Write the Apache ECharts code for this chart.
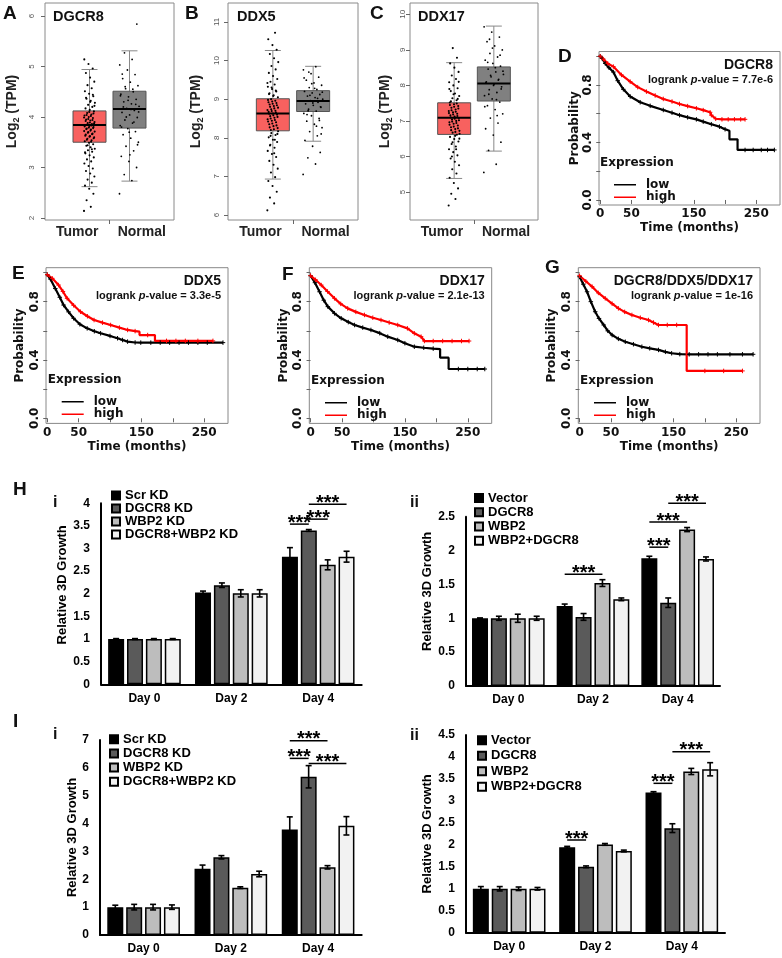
<!DOCTYPE html>
<html><head><meta charset="utf-8">
<script src="https://cdn.jsdelivr.net/npm/echarts@6/dist/echarts.min.js"></script>
<style>html,body{margin:0;padding:0;background:#fff}#c{width:782px;height:958px}</style>
</head><body><div id="c"></div>
<script>
// ================= DATA =================
// ---- A–C: expression box plots (Log2 TPM) ----
const boxCategories = ['Tumor', 'Normal'];
// [lower whisker, Q1, median, Q3, upper whisker]
const dgcr8Box = [[2.62, 3.50, 3.84, 4.12, 4.94], [2.73, 3.78, 4.16, 4.51, 5.31]];
const ddx5Box  = [[6.93, 8.18, 8.63, 9.01, 10.26], [7.91, 8.68, 8.95, 9.22, 9.85]];
const ddx17Box = [[5.38, 6.62, 7.09, 7.51, 8.64], [6.15, 7.56, 8.05, 8.52, 9.67]];
const dgcr8TumorPts = [2.14, 2.22, 2.35, 2.48, 2.58, 2.64, 2.7, 2.76, 2.82, 2.88, 2.93, 2.98, 3.03, 3.08, 3.12, 3.16, 3.2, 3.24, 3.28, 3.31, 3.34, 3.37, 3.4, 3.43, 3.46, 3.49, 3.52, 3.54, 3.57, 3.6, 3.62, 3.65, 3.67, 3.7, 3.72, 3.75, 3.77, 3.8, 3.82, 3.84, 3.86, 3.88, 3.9, 3.93, 3.95, 3.98, 4.0, 4.03, 4.05, 4.08, 4.11, 4.14, 4.17, 4.2, 4.24, 4.28, 4.32, 4.36, 4.41, 4.46, 4.51, 4.57, 4.63, 4.7, 4.78, 4.87, 4.96, 5.05, 5.14,
  3.51, 3.55, 3.58, 3.61, 3.63, 3.66, 3.69, 3.71, 3.73, 3.76, 3.78, 3.79, 3.81, 3.83, 3.85, 3.87, 3.89, 3.92, 3.94, 3.96, 3.99, 4.02, 4.04, 4.07, 4.1, 3.3, 3.36, 3.44, 4.22, 4.3, 4.38, 4.44];
const dgcr8NormalPts = [2.48, 2.74, 2.86, 3.0, 3.12, 3.22, 3.33, 3.42, 3.5, 3.58, 3.65, 3.71, 3.77, 3.83, 3.88, 3.94, 3.99, 4.04, 4.09, 4.13, 4.17, 4.21, 4.26, 4.3, 4.35, 4.4, 4.45, 4.5, 4.56, 4.62, 4.69, 4.76, 4.84, 4.93, 5.03, 5.14, 5.27, 5.84,
  3.7, 3.8, 3.9, 4.0, 4.1, 4.15, 4.2, 4.25, 4.33, 4.42, 4.55, 4.6, 3.45, 3.25, 4.85];
const ddx5TumorPts = [6.12, 6.3, 6.45, 6.6, 6.75, 6.88, 6.98, 7.1, 7.2, 7.3, 7.4, 7.5, 7.58, 7.66, 7.74, 7.82, 7.89, 7.95, 8.01, 8.07, 8.12, 8.17, 8.22, 8.27, 8.32, 8.37, 8.42, 8.46, 8.5, 8.54, 8.58, 8.62, 8.65, 8.69, 8.72, 8.76, 8.8, 8.84, 8.88, 8.92, 8.96, 9.0, 9.05, 9.1, 9.15, 9.2, 9.26, 9.32, 9.38, 9.45, 9.52, 9.6, 9.68, 9.77, 9.86, 9.96, 10.06, 10.17, 10.28, 10.4, 10.55, 10.72,
  8.2, 8.25, 8.3, 8.35, 8.4, 8.44, 8.48, 8.52, 8.56, 8.6, 8.63, 8.67, 8.7, 8.74, 8.78, 8.82, 8.86, 8.9, 8.94, 8.98, 7.95, 8.05, 8.1, 9.08, 9.13, 9.22, 9.3, 9.42, 7.6, 7.8];
const ddx5NormalPts = [7.05, 7.32, 7.48, 7.62, 7.78, 7.93, 8.05, 8.16, 8.26, 8.35, 8.43, 8.5, 8.57, 8.63, 8.69, 8.74, 8.79, 8.84, 8.88, 8.92, 8.96, 9.0, 9.04, 9.08, 9.12, 9.16, 9.2, 9.25, 9.3, 9.36, 9.42, 9.49, 9.57, 9.66, 9.76, 9.84,
  8.7, 8.8, 8.9, 8.95, 9.02, 9.1, 9.18, 9.28, 8.6, 8.45, 9.4, 9.55, 8.3, 9.7, 8.1];
const ddx17TumorPts = [4.62, 4.8, 4.95, 5.1, 5.25, 5.4, 5.52, 5.64, 5.75, 5.85, 5.94, 6.03, 6.12, 6.2, 6.28, 6.35, 6.42, 6.49, 6.55, 6.61, 6.67, 6.72, 6.77, 6.82, 6.87, 6.92, 6.96, 7.0, 7.04, 7.08, 7.12, 7.16, 7.2, 7.24, 7.28, 7.32, 7.37, 7.42, 7.47, 7.52, 7.58, 7.64, 7.7, 7.77, 7.84, 7.92, 8.0, 8.09, 8.18, 8.28, 8.38, 8.5, 8.62, 8.78, 9.05,
  6.64, 6.69, 6.74, 6.79, 6.84, 6.89, 6.94, 6.98, 7.02, 7.06, 7.1, 7.14, 7.18, 7.22, 7.26, 7.3, 7.35, 7.4, 7.45, 7.49, 6.4, 6.5, 6.58, 7.55, 7.62, 7.75, 7.9, 6.2, 6.0, 8.1];
const ddx17NormalPts = [5.55, 5.78, 6.17, 6.4, 6.6, 6.78, 6.94, 7.08, 7.2, 7.32, 7.43, 7.53, 7.62, 7.71, 7.8, 7.88, 7.96, 8.03, 8.1, 8.17, 8.24, 8.31, 8.38, 8.46, 8.54, 8.62, 8.71, 8.8, 8.9, 9.0, 9.11, 9.23, 9.36, 9.5, 9.65,
  7.6, 7.75, 7.9, 8.0, 8.08, 8.15, 8.28, 8.4, 8.5, 8.65, 8.85, 9.05, 7.4, 7.15, 9.3];
const boxTicksA = [2, 3, 4, 5, 6];
const boxTicksB = [6, 7, 8, 9, 10, 11];
const boxTicksC = [5, 6, 7, 8, 9, 10];

// ---- D–G: Kaplan–Meier curves [months, probability] ----
const kmTicks = [0, 50, 100, 150, 200, 250];
const kmTickLabels = [0, 50, 150, 250];
const probTicks = [0, 0.2, 0.4, 0.6, 0.8, 1.0];
const probTickLabels = [0, 0.4, 0.8];
const kmGroups = ['low', 'high'];
const kmGenes = ['DGCR8', 'DDX5', 'DDX17', 'DGCR8/DDX5/DDX17'];
const kmPvalues = ['7.7e-6', '3.3e-5', '2.1e-13', '1e-16'];
const dLow = [[0,1],[3,0.985],[8,0.95],[14,0.92],[21,0.89],[28,0.83],[37,0.77],[48,0.72],[64,0.68],[80,0.655],[101,0.626],[115,0.607],[127,0.59],[140,0.575],[154,0.561],[165,0.545],[178,0.527],[191,0.51],[200,0.492],[207,0.482],[207,0.422],[220,0.422],[220,0.348],[232,0.348],[245,0.348],[258,0.348],[268,0.348],[279,0.348]];
const dHigh = [[0,1],[5,0.98],[12,0.95],[21,0.928],[34,0.87],[48,0.823],[60,0.785],[74,0.754],[88,0.727],[101,0.703],[115,0.685],[127,0.668],[140,0.653],[154,0.638],[165,0.625],[176,0.61],[178,0.59],[185,0.565],[195,0.561],[205,0.561],[215,0.561],[225,0.561],[232,0.561]];
const eLow = [[0,0.985],[5,0.955],[12.8,0.89],[20,0.83],[26,0.777],[34,0.73],[42,0.686],[52,0.645],[63.6,0.617],[75,0.597],[85,0.583],[100,0.565],[112,0.549],[120,0.537],[128,0.526],[140,0.52],[149,0.519],[165,0.519],[180,0.519],[195,0.519],[210,0.519],[225,0.519],[240,0.519],[255,0.519],[280,0.519]];
const eHigh = [[0,0.985],[8,0.96],[18,0.914],[25,0.87],[31.6,0.823],[42,0.775],[53,0.731],[64,0.7],[74.6,0.674],[88,0.656],[101,0.64],[115,0.622],[128,0.606],[140,0.598],[147,0.594],[147,0.571],[160,0.571],[171.6,0.571],[171.6,0.531],[190,0.531],[205,0.531],[220,0.531],[240,0.531],[264,0.531]];
const fLow = [[0,0.978],[7,0.93],[14.3,0.868],[21,0.81],[27.5,0.766],[38,0.72],[48.7,0.686],[60,0.66],[70,0.64],[83,0.622],[96,0.606],[110,0.584],[122.7,0.56],[138.6,0.537],[150,0.515],[165,0.491],[180,0.484],[195,0.478],[206,0.475],[206,0.416],[219.5,0.416],[219.5,0.338],[235,0.338],[250,0.338],[265,0.338],[277,0.338]];
const fHigh = [[0,0.978],[8,0.95],[17,0.914],[27,0.87],[38,0.823],[48,0.785],[59,0.754],[72,0.73],[85.7,0.709],[99,0.69],[112,0.674],[125,0.657],[138.6,0.64],[154,0.617],[165,0.583],[175.7,0.56],[181,0.53],[195,0.53],[210,0.53],[225,0.53],[240,0.53],[252,0.53]];
const gLow = [[0,0.971],[6,0.92],[12,0.868],[18,0.8],[25,0.731],[31,0.685],[38.6,0.64],[45,0.6],[52,0.571],[62,0.545],[73,0.525],[86,0.508],[99.5,0.491],[112,0.48],[126,0.469],[137,0.456],[147,0.446],[160,0.44],[175,0.439],[190,0.439],[205,0.439],[220,0.439],[240,0.439],[260,0.439],[277,0.439]];
const gHigh = [[0,0.978],[10,0.94],[20,0.903],[30,0.86],[41,0.823],[52,0.786],[62,0.754],[72,0.73],[83.6,0.709],[97,0.69],[110,0.674],[118,0.657],[126,0.64],[140,0.64],[155,0.64],[171,0.64],[171,0.325],[200,0.325],[230,0.325],[260,0.325]];

// ---- H, I: relative 3D growth bar charts ----
const days = ['Day 0', 'Day 2', 'Day 4'];
const kdNames = ['Scr KD', 'DGCR8 KD', 'WBP2 KD', 'DGCR8+WBP2 KD'];
const oeNames = ['Vector', 'DGCR8', 'WBP2', 'WBP2+DGCR8'];
// H i
const hiScr = [1.00, 2.03, 2.82],  hiScrErr = [0.01, 0.03, 0.20];
const hiDgcr8 = [1.00, 2.19, 3.40], hiDgcr8Err = [0.01, 0.05, 0.02];
const hiWbp2 = [1.00, 2.01, 2.64], hiWbp2Err = [0.01, 0.08, 0.11];
const hiBoth = [1.00, 2.01, 2.82], hiBothErr = [0.01, 0.08, 0.12];
// H ii
const hiiVector = [1.00, 1.18, 1.886], hiiVectorErr = [0.005, 0.03, 0.03];
const hiiDgcr8 = [1.00, 1.02, 1.23],  hiiDgcr8Err = [0.03, 0.05, 0.07];
const hiiWbp2 = [1.00, 1.52, 2.31],   hiiWbp2Err = [0.06, 0.05, 0.03];
const hiiBoth = [1.00, 1.28, 1.876],  hiiBothErr = [0.03, 0.02, 0.03];
// I i
const iiScr = [1.00, 2.38, 3.79],  iiScrErr = [0.07, 0.13, 0.45];
const iiDgcr8 = [1.00, 2.79, 5.68], iiDgcr8Err = [0.10, 0.06, 0.40];
const iiWbp2 = [1.00, 1.70, 2.43], iiWbp2Err = [0.10, 0.03, 0.06];
const iiBoth = [1.00, 2.19, 3.92], iiBothErr = [0.08, 0.10, 0.33];
// I ii
const iiiVector = [1.00, 1.945, 3.19], iiiVectorErr = [0.05, 0.02, 0.02];
const iiiDgcr8 = [1.00, 1.50, 2.38],   iiiDgcr8Err = [0.05, 0.02, 0.10];
const iiiWbp2 = [1.00, 2.01, 3.67],    iiiWbp2Err = [0.04, 0.02, 0.07];
const iiiBoth = [1.00, 1.86, 3.72],    iiiBothErr = [0.03, 0.02, 0.15];
// significance brackets: [day index, from bar, to bar, bracket height]
const hiStars = [[2, 0, 1, 3.54], [2, 1, 2, 3.65], [2, 1, 3, 3.98]];
const hiiStars = [[1, 0, 2, 1.65], [2, 0, 1, 2.05], [2, 0, 2, 2.42], [2, 1, 3, 2.70]];
const iiStars = [[2, 0, 2, 6.97], [2, 0, 1, 6.34], [2, 1, 3, 6.16]];
const iiiStars = [[1, 0, 1, 2.11], [2, 0, 1, 3.40], [2, 1, 3, 4.12]];

// ================= STYLE / LAYOUT =================
const ARIAL = 'Liberation Sans, Arial, sans-serif';
const DEJAVU = 'DejaVu Sans, sans-serif';
const BOX_POS = [1.38, 2.62];
const BOX_HALF = 16.5, CAP_HALF = 8;
const DOT_SPREAD = [11, 20];
const DOT_R = [1.05, 0.9];
const BAR_W = 16, BAR_GAP = 0.18;
const barColors = ['#000000', '#5a5a5a', '#bdbdbd', '#f2f2f2'];
const PLUS = 'path://M0,5H10M5,0V10';

const grids = [], xAxes = [], yAxes = [], series = [], legends = [], texts = [];

function boxRender(params, api) {
  const gi = api.value(0);
  const x = api.coord([BOX_POS[gi], 0])[0];
  const y = k => api.coord([BOX_POS[gi], api.value(k)])[1];
  const lo = y(1), q1 = y(2), md = y(3), q3 = y(4), hi = y(5);
  const fill = gi === 0 ? '#f8615f' : '#808080';
  const ln = (x1, y1, x2, y2, c, w) => ({type: 'line', shape: {x1, y1, x2, y2}, style: {stroke: c, lineWidth: w}});
  return {type: 'group', children: [
    ln(x, hi, x, lo, '#888', 1),
    ln(x - CAP_HALF, hi, x + CAP_HALF, hi, '#888', 1),
    ln(x - CAP_HALF, lo, x + CAP_HALF, lo, '#888', 1),
    {type: 'rect', shape: {x: x - BOX_HALF, y: q3, width: 2 * BOX_HALF, height: q1 - q3}, style: {fill, stroke: '#555', lineWidth: 1}}
  ]};
}
function dotRender(params, api) {
  const gi = api.value(0);
  const p = api.coord([BOX_POS[gi], api.value(1)]);
  const k = api.value(2);
  const off = (((k * 0.6180339887) % 1) - 0.5) * DOT_SPREAD[gi];
  return {type: 'circle', shape: {cx: p[0] + off, cy: p[1], r: DOT_R[gi]}, style: {fill: '#000'}};
}
function medRender(params, api) {
  const gi = api.value(0);
  const p = api.coord([BOX_POS[gi], api.value(3)]);
  return {type: 'line', shape: {x1: p[0] - BOX_HALF, y1: p[1], x2: p[0] + BOX_HALF, y2: p[1]}, style: {stroke: '#000', lineWidth: 2}};
}

function addBoxPanel(g, box, tumorPts, normalPts, ticks) {
  const gi = grids.length;
  grids.push({left: g.left, top: g.top, width: g.width, height: g.height, show: true, borderColor: '#8a8a8a', borderWidth: 1, backgroundColor: 'transparent'});
  xAxes.push({gridIndex: gi, type: 'value', min: 0, max: 4, axisLine: {show: false}, splitLine: {show: false},
    axisTick: {show: true, customValues: [2], length: 4, lineStyle: {color: '#666'}},
    axisLabel: {customValues: [1, 3], formatter: v => boxCategories[Math.round((v - 1) / 2)], margin: 5, fontSize: 14, fontWeight: 'bold', fontFamily: ARIAL, color: '#222'}});
  yAxes.push({gridIndex: gi, type: 'value', min: g.yMin, max: g.yMax, axisLine: {show: false}, splitLine: {show: false},
    axisTick: {show: true, customValues: ticks, length: 4, lineStyle: {color: '#666'}},
    axisLabel: {customValues: ticks, rotate: 90, margin: g.labelMargin, fontSize: 8, color: '#555', fontFamily: ARIAL},
    name: '{a|Log}{b|2}{a| (TPM)}', nameLocation: 'middle', nameGap: g.nameGap,
    nameTextStyle: {rich: {
      a: {fontSize: 14, fontWeight: 'bold', fontFamily: ARIAL, color: '#222', lineHeight: 17},
      b: {fontSize: 9, fontWeight: 'bold', fontFamily: ARIAL, color: '#222', lineHeight: 17, verticalAlign: 'bottom', padding: [7, 0, 0, 0]}
    }}});
  const boxData = box.map((b, i) => [i].concat(b));
  series.push({type: 'custom', xAxisIndex: gi, yAxisIndex: gi, renderItem: boxRender, data: boxData, encode: {x: 0, y: [1, 2, 3, 4, 5]}, silent: true, z: 2});
  const pts = [];
  tumorPts.forEach((v, k) => pts.push([0, v, k]));
  normalPts.forEach((v, k) => pts.push([1, v, k]));
  series.push({type: 'custom', xAxisIndex: gi, yAxisIndex: gi, renderItem: dotRender, data: pts, encode: {x: 0, y: 1}, silent: true, z: 3});
  series.push({type: 'custom', xAxisIndex: gi, yAxisIndex: gi, renderItem: medRender, data: boxData, encode: {x: 0, y: [1, 2, 3, 4, 5]}, silent: true, z: 4});
}

function kmLine(name, data, color, gi) {
  // censor "+" marks on every reading except the corners of vertical drops
  const sym = (val, params) => {
    const i = params.dataIndex;
    const prev = data[i - 1], next = data[i + 1];
    if ((prev && prev[0] === data[i][0]) || (next && next[0] === data[i][0])) return 'none';
    return PLUS;
  };
  return {type: 'line', name, xAxisIndex: gi, yAxisIndex: gi, data, showSymbol: true,
    symbol: sym, symbolSize: 4.5,
    lineStyle: {color, width: 2.2}, itemStyle: {color, borderColor: color, borderWidth: 1}, silent: true, z: 3};
}
function addKmPanel(g, low, high, k) {
  const gi = grids.length;
  const axTxt = {fontFamily: DEJAVU, fontWeight: 'bold', fontSize: 12, color: '#111'};
  grids.push({left: g.left, top: g.top, width: g.width, height: g.height, show: true, borderColor: '#888', borderWidth: 1, backgroundColor: 'transparent'});
  xAxes.push({gridIndex: gi, type: 'value', min: -2, max: 288, axisLine: {show: false}, splitLine: {show: false},
    axisTick: {show: true, customValues: kmTicks, length: 4, lineStyle: {color: '#666'}},
    axisLabel: Object.assign({customValues: kmTickLabels, margin: 3}, axTxt),
    name: 'Time (months)', nameLocation: 'middle', nameGap: 17, nameTextStyle: axTxt});
  yAxes.push({gridIndex: gi, type: 'value', min: -0.035, max: 1.033, axisLine: {show: false}, splitLine: {show: false},
    axisTick: {show: true, customValues: probTicks, length: 4, lineStyle: {color: '#666'}},
    axisLabel: Object.assign({customValues: probTickLabels, formatter: v => v.toFixed(1), rotate: 90, margin: 5}, axTxt),
    name: 'Probability', nameLocation: 'middle', nameGap: g.nameGap, nameTextStyle: axTxt});
  series.push(kmLine(kmGroups[0], low, '#000000', gi), kmLine(kmGroups[1], high, '#ff0000', gi));
  legends.push({data: kmGroups, left: g.legLeft, top: g.legTop, orient: 'vertical', icon: 'rect', itemWidth: 22, itemHeight: 1.5, itemGap: 0,
    itemStyle: {borderWidth: 0}, selectedMode: false, textStyle: Object.assign({lineHeight: 12.5, padding: [0, 0, 0, 5]}, axTxt)});
  texts.push({x: g.legLeft - 9, y: g.expY, text: 'Expression', font: DEJAVU, size: 12});
  texts.push({x: g.left + g.width - 7, y: g.titleY, text: kmGenes[k], size: 14, align: 'right'});
  texts.push({x: g.left + g.width - 7, y: g.titleY + 15, rich: true, text: '{n|logrank }{i|p}{n|-value = ' + kmPvalues[k] + '}', size: 11, align: 'right'});
}

function barCenterX(api, cat, idx) {
  const c = api.coord([cat, 0])[0];
  const step = BAR_W * (1 + BAR_GAP);
  const total = 4 * BAR_W + 3 * BAR_W * BAR_GAP;
  return c - total / 2 + BAR_W / 2 + idx * step;
}
function errRender(params, api) {
  const cat = api.value(0), v = api.value(1), e = api.value(2), bi = api.value(3);
  const x = barCenterX(api, cat, bi);
  const yHi = api.coord([cat, v + e])[1], yLo = api.coord([cat, v - e])[1];
  const st = {stroke: '#000', lineWidth: 1.6};
  return {type: 'group', children: [
    {type: 'line', shape: {x1: x, y1: yHi, x2: x, y2: yLo}, style: st},
    {type: 'line', shape: {x1: x - 3, y1: yHi, x2: x + 3, y2: yHi}, style: st},
    {type: 'line', shape: {x1: x - 3, y1: yLo, x2: x + 3, y2: yLo}, style: st}
  ]};
}
function starRender(params, api) {
  const cat = api.value(0), a = api.value(1), b = api.value(2), v = api.value(3);
  const x1 = barCenterX(api, cat, a), x2 = barCenterX(api, cat, b);
  const y = api.coord([cat, v])[1];
  return {type: 'group', children: [
    {type: 'line', shape: {x1, y1: y, x2, y2: y}, style: {stroke: '#000', lineWidth: 1.5}},
    {type: 'text', x: (x1 + x2) / 2, y: y - 1, style: {text: '***', fontSize: 20, fontWeight: 'bold', fontFamily: ARIAL, fill: '#000', align: 'center', verticalAlign: 'middle'}}
  ]};
}
function addBarPanel(g, names, vals, errs, stars) {
  const gi = grids.length;
  const txt = {fontFamily: ARIAL, fontWeight: 'bold', fontSize: 12, color: '#000'};
  grids.push({left: g.left, top: g.top, width: g.width, height: g.height});
  xAxes.push({gridIndex: gi, type: 'category', data: days, axisLine: {show: true, lineStyle: {color: '#000', width: 2}}, axisTick: {show: false},
    axisLabel: Object.assign({margin: 8}, txt)});
  yAxes.push({gridIndex: gi, type: 'value', min: 0, max: g.yMax, interval: g.interval, axisLine: {show: true, lineStyle: {color: '#000', width: 2}},
    axisTick: {show: false}, splitLine: {show: false}, axisLabel: Object.assign({margin: 11}, txt),
    name: 'Relative 3D Growth', nameLocation: 'middle', nameGap: g.nameGap,
    nameTextStyle: Object.assign({}, txt, {fontSize: 13, padding: [0, 0, 0, g.namePad]})});
  names.forEach((n, i) => series.push({type: 'bar', name: n, xAxisIndex: gi, yAxisIndex: gi, data: vals[i], barWidth: BAR_W, barGap: (BAR_GAP * 100) + '%',
    itemStyle: {color: barColors[i], borderColor: '#000', borderWidth: 1.5}, silent: true, z: 2}));
  const ed = [];
  vals.forEach((arr, i) => arr.forEach((v, d) => ed.push([d, v, errs[i][d], i])));
  series.push({type: 'custom', xAxisIndex: gi, yAxisIndex: gi, renderItem: errRender, data: ed, encode: {x: 0, y: 1}, silent: true, z: 4});
  series.push({type: 'custom', xAxisIndex: gi, yAxisIndex: gi, renderItem: starRender, data: stars, encode: {x: 0, y: 3}, silent: true, z: 4, clip: false});
  legends.push({data: names, left: g.legLeft, top: g.legTop, orient: 'vertical', icon: 'rect', itemWidth: 8, itemHeight: 8, itemGap: 0, selectedMode: false,
    textStyle: Object.assign({}, txt, {fontSize: 13, lineHeight: g.legLine})});
}

// ---- build panels ----
addBoxPanel({left: 45, top: 3, width: 129, height: 217, yMin: 1.96, yMax: 6.257, labelMargin: 9, nameGap: 24}, dgcr8Box, dgcr8TumorPts, dgcr8NormalPts, boxTicksA);
addBoxPanel({left: 228, top: 3, width: 130, height: 217, yMin: 5.87, yMax: 11.49, labelMargin: 7, nameGap: 23}, ddx5Box, ddx5TumorPts, ddx5NormalPts, boxTicksB);
addBoxPanel({left: 410, top: 3, width: 128, height: 217, yMin: 4.21, yMax: 10.32, labelMargin: 3, nameGap: 16}, ddx17Box, ddx17TumorPts, ddx17NormalPts, boxTicksC);

addKmPanel({left: 599, top: 51.5, width: 181, height: 153.5, nameGap: 17, legLeft: 609, legTop: 173.5, expY: 163, titleY: 65}, dLow, dHigh, 0);
addKmPanel({left: 46, top: 267.7, width: 182, height: 155.7, nameGap: 20, legLeft: 56.7, legTop: 390.5, expY: 380, titleY: 281}, eLow, eHigh, 1);
addKmPanel({left: 309.3, top: 267.7, width: 182.4, height: 155.7, nameGap: 19, legLeft: 320, legTop: 391.5, expY: 381, titleY: 281}, fLow, fHigh, 2);
addKmPanel({left: 578.3, top: 267.7, width: 181.7, height: 155.7, nameGap: 20, legLeft: 589, legTop: 391.5, expY: 381, titleY: 281}, gLow, gHigh, 3);

addBarPanel({left: 101, top: 503.3, width: 260.7, height: 181, yMax: 4, interval: 0.5, nameGap: 25, namePad: 18, legLeft: 106, legTop: 484, legLine: 13},
  kdNames, [hiScr, hiDgcr8, hiWbp2, hiBoth], [hiScrErr, hiDgcr8Err, hiWbp2Err, hiBothErr], hiStars);
addBarPanel({left: 466, top: 516.7, width: 254, height: 169.3, yMax: 2.5, interval: 0.5, nameGap: 32, namePad: 20, legLeft: 469, legTop: 486, legLine: 14.2},
  oeNames, [hiiVector, hiiDgcr8, hiiWbp2, hiiBoth], [hiiVectorErr, hiiDgcr8Err, hiiWbp2Err, hiiBothErr], hiiStars);
addBarPanel({left: 100, top: 740, width: 261.7, height: 195, yMax: 7, interval: 1, nameGap: 20, namePad: 0, legLeft: 104, legTop: 727.3, legLine: 14.1},
  kdNames, [iiScr, iiDgcr8, iiWbp2, iiBoth], [iiScrErr, iiDgcr8Err, iiWbp2Err, iiBothErr], iiStars);
addBarPanel({left: 466, top: 735, width: 259, height: 197.7, yMax: 4.5, interval: 0.5, nameGap: 28, namePad: 0, legLeft: 472, legTop: 727.5, legLine: 15.5},
  oeNames, [iiiVector, iiiDgcr8, iiiWbp2, iiiBoth], [iiiVectorErr, iiiDgcr8Err, iiiWbp2Err, iiiBothErr], iiiStars);

// ---- text labels ----
[['A', 3, 14], ['B', 185, 14], ['C', 370, 14], ['D', 558, 57], ['E', 12, 274], ['F', 282, 275], ['G', 545, 268], ['H', 13, 490], ['I', 13, 722]]
  .forEach(t => texts.push({x: t[1], y: t[2], text: t[0], size: 19}));
[['i', 53, 503], ['ii', 410, 503], ['i', 53, 735], ['ii', 410, 736]].forEach(t => texts.push({x: t[1], y: t[2], text: t[0], size: 16}));
[['DGCR8', 53, 17], ['DDX5', 237, 17], ['DDX17', 418, 17]].forEach(t => texts.push({x: t[1], y: t[2], text: t[0], size: 14.5}));

const graphicEls = texts.map(t => {
  const style = {text: t.text, fill: '#111', fontFamily: t.font || ARIAL, fontWeight: 'bold', fontSize: t.size, align: t.align || 'left', verticalAlign: 'middle'};
  if (t.rich) style.rich = {
    n: {fontFamily: ARIAL, fontWeight: 'bold', fontSize: t.size, fill: '#111'},
    i: {fontFamily: ARIAL, fontWeight: 'bold', fontStyle: 'italic', fontSize: t.size, fill: '#111'}
  };
  return {type: 'text', x: t.x, y: t.y, silent: true, z: 10, style};
});

const chart = echarts.init(document.getElementById('c'), null, {renderer: 'canvas'});
chart.setOption({
  animation: false,
  backgroundColor: '#ffffff',
  grid: grids, xAxis: xAxes, yAxis: yAxes, series, legend: legends,
  graphic: {elements: graphicEls}
});
</script></body></html>
